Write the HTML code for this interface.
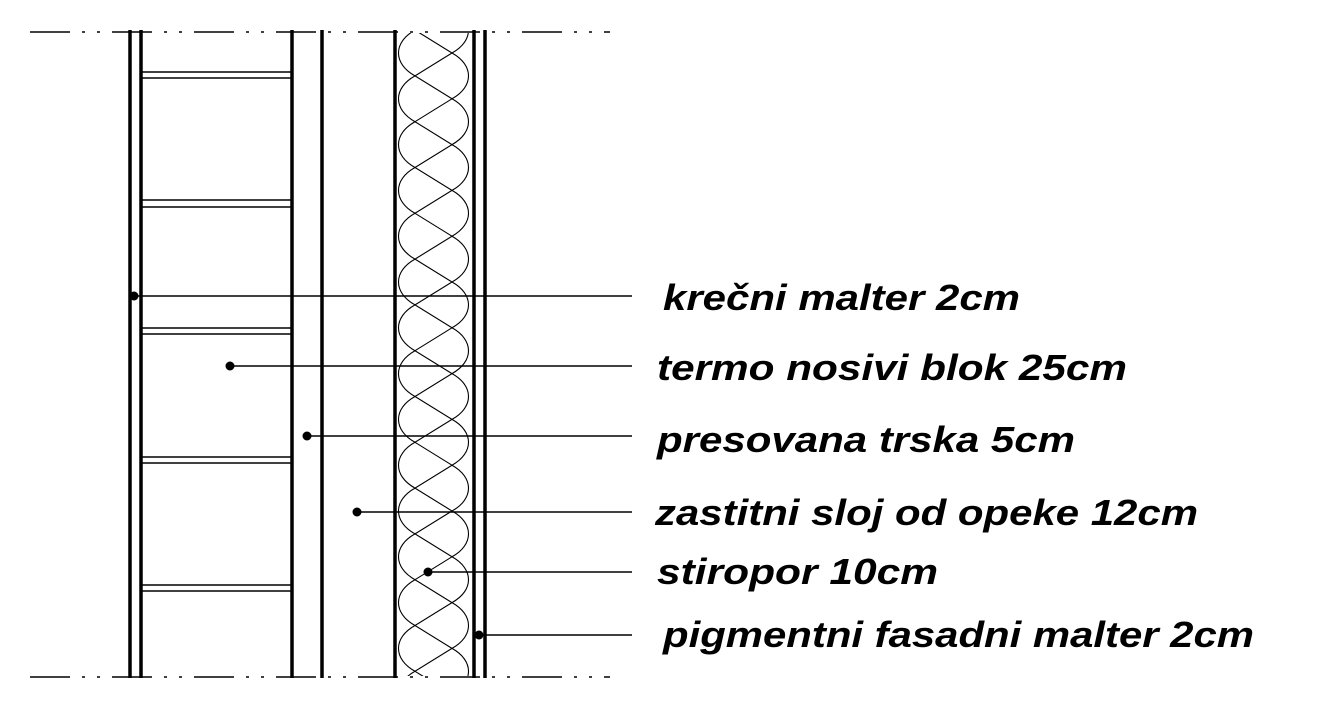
<!DOCTYPE html>
<html><head><meta charset="utf-8"><style>
html,body{margin:0;padding:0;background:#fff;}
svg{display:block;}
text{font-family:"Liberation Sans",sans-serif;font-weight:bold;font-style:italic;font-size:36px;fill:#000;}
</style></head><body>
<svg width="1337" height="707" viewBox="0 0 1337 707" xmlns="http://www.w3.org/2000/svg">
<g stroke="#000" fill="none">
<line x1="30" y1="32" x2="610" y2="32" stroke-width="1.5" stroke-dasharray="40,12,3,12,3,12"/>
<line x1="30" y1="677" x2="610" y2="677" stroke-width="1.5" stroke-dasharray="40,12,3,12,3,12"/>
<g stroke-width="3.5">
<line x1="130" y1="30" x2="130" y2="678"/>
<line x1="141" y1="30" x2="141" y2="678"/>
<line x1="292" y1="30" x2="292" y2="678"/>
<line x1="322" y1="30" x2="322" y2="678"/>
<line x1="395" y1="30" x2="395" y2="678"/>
<line x1="474" y1="30" x2="474" y2="678"/>
<line x1="485" y1="30" x2="485" y2="678"/>
</g>
<g stroke-width="1.5">
<line x1="142" y1="72" x2="291" y2="72"/><line x1="142" y1="78" x2="291" y2="78"/>
<line x1="142" y1="200" x2="291" y2="200"/><line x1="142" y1="207" x2="291" y2="207"/>
<line x1="142" y1="328" x2="291" y2="328"/><line x1="142" y1="334" x2="291" y2="334"/>
<line x1="142" y1="457" x2="291" y2="457"/><line x1="142" y1="463" x2="291" y2="463"/>
<line x1="142" y1="585" x2="291" y2="585"/><line x1="142" y1="591" x2="291" y2="591"/>
</g>
<clipPath id="c"><rect x="397" y="33" width="75" height="643"/></clipPath>
<g clip-path="url(#c)">
<g stroke-width="1.1" transform="matrix(1 0 0 1.01778 0 -1.96)">
<path d="M452 9 L415 31.5 L452 54 L415 76.5 L452 99 L415 121.5 L452 144 L415 166.5 L452 189 L415 211.5 L452 234 L415 256.5 L452 279 L415 301.5 L452 324 L415 346.5 L452 369 L415 391.5 L452 414 L415 436.5 L452 459 L415 481.5 L452 504 L415 526.5 L452 549 L415 571.5 L452 594 L415 616.5 L452 639 L415 661.5 L452 684 L415 706.5"/>
<path d="M452 9 C474 21 474 42 452 54 C474 66 474 87 452 99 C474 111 474 132 452 144 C474 156 474 177 452 189 C474 201 474 222 452 234 C474 246 474 267 452 279 C474 291 474 312 452 324 C474 336 474 357 452 369 C474 381 474 402 452 414 C474 426 474 447 452 459 C474 471 474 492 452 504 C474 516 474 537 452 549 C474 561 474 582 452 594 C474 606 474 627 452 639 C474 651 474 672 452 684"/>
<path d="M415 -13.5 C393 -1.5 393 19.5 415 31.5 C393 43.5 393 64.5 415 76.5 C393 88.5 393 109.5 415 121.5 C393 133.5 393 154.5 415 166.5 C393 178.5 393 199.5 415 211.5 C393 223.5 393 244.5 415 256.5 C393 268.5 393 289.5 415 301.5 C393 313.5 393 334.5 415 346.5 C393 358.5 393 379.5 415 391.5 C393 403.5 393 424.5 415 436.5 C393 448.5 393 469.5 415 481.5 C393 493.5 393 514.5 415 526.5 C393 538.5 393 559.5 415 571.5 C393 583.5 393 604.5 415 616.5 C393 628.5 393 649.5 415 661.5 C393 673.5 393 694.5 415 706.5"/>
</g>
</g>
<g stroke-width="1.5">
<line x1="134" y1="296" x2="632" y2="296"/>
<line x1="230" y1="366" x2="632" y2="366"/>
<line x1="307" y1="436" x2="632" y2="436"/>
<line x1="357" y1="512" x2="632" y2="512"/>
<line x1="428" y1="572" x2="632" y2="572"/>
<line x1="479" y1="635" x2="632" y2="635"/>
</g>
</g>
<g fill="#000">
<circle cx="134" cy="296" r="4.5"/><circle cx="230" cy="366" r="4.5"/><circle cx="307" cy="436" r="4.5"/>
<circle cx="357" cy="512" r="4.5"/><circle cx="428" cy="572" r="4.5"/><circle cx="479" cy="635" r="4.5"/>
</g>
<text x="663" y="310" textLength="357" lengthAdjust="spacingAndGlyphs">krečni malter 2cm</text>
<text x="657" y="380" textLength="470" lengthAdjust="spacingAndGlyphs">termo nosivi blok 25cm</text>
<text x="657" y="452" textLength="418" lengthAdjust="spacingAndGlyphs">presovana trska 5cm</text>
<text x="655" y="525" textLength="543" lengthAdjust="spacingAndGlyphs">zastitni sloj od opeke 12cm</text>
<text x="657" y="584" textLength="281" lengthAdjust="spacingAndGlyphs">stiropor 10cm</text>
<text x="663" y="647" textLength="591" lengthAdjust="spacingAndGlyphs">pigmentni fasadni malter 2cm</text>
</svg>
</body></html>
